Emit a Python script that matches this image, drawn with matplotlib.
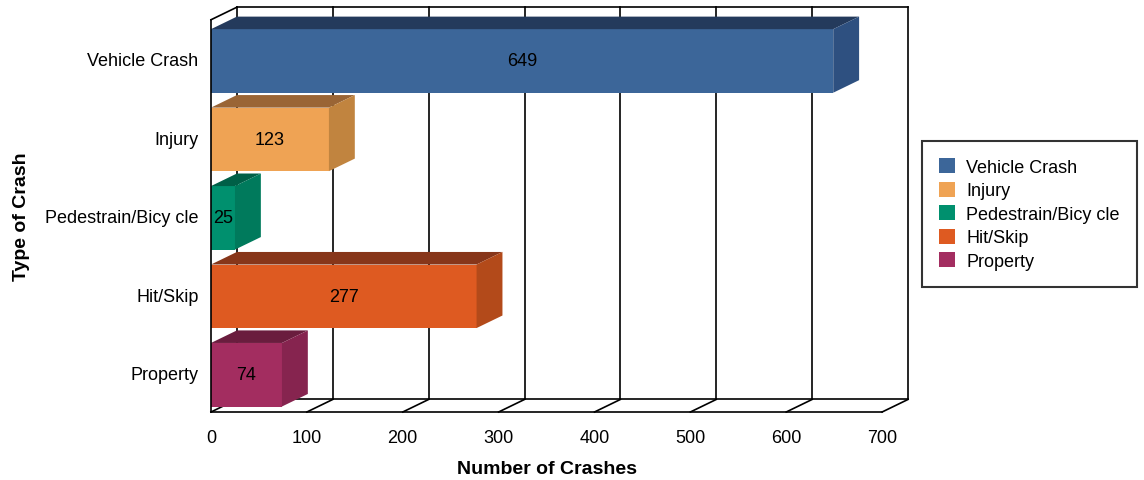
import matplotlib
matplotlib.use("Agg")
import matplotlib.pyplot as plt
from matplotlib.patches import Polygon, Patch

plt.rcParams['font.family'] = ['Liberation Sans', 'DejaVu Sans']

# data
categories = ["Vehicle Crash", "Injury", "Pedestrain/Bicy cle", "Hit/Skip", "Property"]
crashes = [649, 123, 25, 277, 74]
x_ticks = [0, 100, 200, 300, 400, 500, 600, 700]

front_colors = ["#3C6699", "#EFA354", "#00906E", "#DE5A21", "#A32D60"]
top_colors = ["#243A5C", "#9A6535", "#005F47", "#87361A", "#6A1D3E"]
side_colors = ["#2E5080", "#C1843F", "#007A5C", "#B34A1A", "#86244F"]

# depth of the fake 3d box, in data units
DX = 27.0
DY = 0.16
XMAX = 700
BAR_H = 0.81
BAR_SHIFT = -0.025


def draw_frame(ax):
    """
    Walls, floor and gridlines of the pseudo 3d box.
    """
    kw = dict(color="black", lw=1.2, clip_on=False, zorder=1)
    lo, hi = -0.5, len(categories) - 0.5
    # back wall gridlines
    for t in x_ticks[1:-1]:
        ax.plot([t + DX, t + DX], [lo + DY, hi + DY], **kw)
    ax.plot([DX, DX], [lo + DY, hi + DY], **kw)
    # floor
    ax.plot([0, XMAX], [lo, lo], **kw)
    ax.plot([DX, XMAX + DX], [lo + DY, lo + DY], **kw)
    for t in x_ticks:
        ax.plot([t, t + DX], [lo, lo + DY], **kw)
    # outer edges
    kw["zorder"] = 5
    ax.plot([XMAX + DX, XMAX + DX], [lo + DY, hi + DY], **kw)
    ax.plot([DX, XMAX + DX], [hi + DY, hi + DY], **kw)
    ax.plot([0, DX], [hi, hi + DY], **kw)
    ax.plot([0, 0], [lo, hi], **kw)


def draw_bars(ax, ypos):
    """
    Front face with barh, top and side faces as polygons.
    """
    yc = [y + BAR_SHIFT for y in ypos]
    ax.barh(yc, crashes, height=BAR_H, color=front_colors, zorder=3)
    for y, v, ct, cs in zip(yc, crashes, top_colors, side_colors):
        yt = y + BAR_H / 2
        yb = y - BAR_H / 2
        top = [(0, yt), (v, yt), (v + DX, yt + DY), (DX, yt + DY)]
        side = [(v, yb), (v, yt), (v + DX, yt + DY), (v + DX, yb + DY)]
        ax.add_patch(Polygon(top, closed=True, facecolor=ct, edgecolor="none", zorder=3))
        ax.add_patch(Polygon(side, closed=True, facecolor=cs, edgecolor="none", zorder=3))
        ax.text(v / 2, y, str(v), ha="center", va="center", fontsize=13, zorder=4)


fig = plt.figure(figsize=(11.44, 4.81), dpi=100)
ax = fig.add_axes([211 / 1144, 1 - 413 / 481, 697 / 1144, (413 - 8.2) / 481])

n = len(categories)
ypos = [n - 1 - i for i in range(n)]

draw_frame(ax)
draw_bars(ax, ypos)

ax.set_xlim(0, XMAX + DX)
ax.set_ylim(-0.5, n - 0.5 + DY)
for s in ax.spines.values():
    s.set_visible(False)

ax.set_xticks(x_ticks)
ax.set_xticklabels([str(t) for t in x_ticks], fontsize=13)
ax.set_yticks(ypos)
ax.set_yticklabels(categories, fontsize=13)
ax.tick_params(axis="x", length=0, pad=12)
ax.tick_params(axis="y", length=0, pad=9)

ax.set_xlabel("Number of Crashes", fontsize=14, fontweight="bold")
ax.xaxis.set_label_coords(350 / (XMAX + DX), -(470 - 413) / 404.8)
ax.xaxis.label.set_va("center")
ax.set_ylabel("Type of Crash", fontsize=14, fontweight="bold")
ax.yaxis.set_label_coords((21 - 211) / 697, (413 - 217) / 404.8)
ax.yaxis.label.set_va("center")

handles = [Patch(facecolor=c, edgecolor="none") for c in front_colors]
leg = fig.legend(handles, categories, loc="upper left",
                 bbox_to_anchor=(922 / 1144, 1 - 142 / 481),
                 fontsize=13, frameon=True, fancybox=False, edgecolor="black",
                 handlelength=0.9, handleheight=0.9, handletextpad=0.6,
                 labelspacing=0.32, borderpad=0.95, borderaxespad=0)
leg.get_frame().set_linewidth(1.5)

fig.savefig("out.png", dpi=100)
